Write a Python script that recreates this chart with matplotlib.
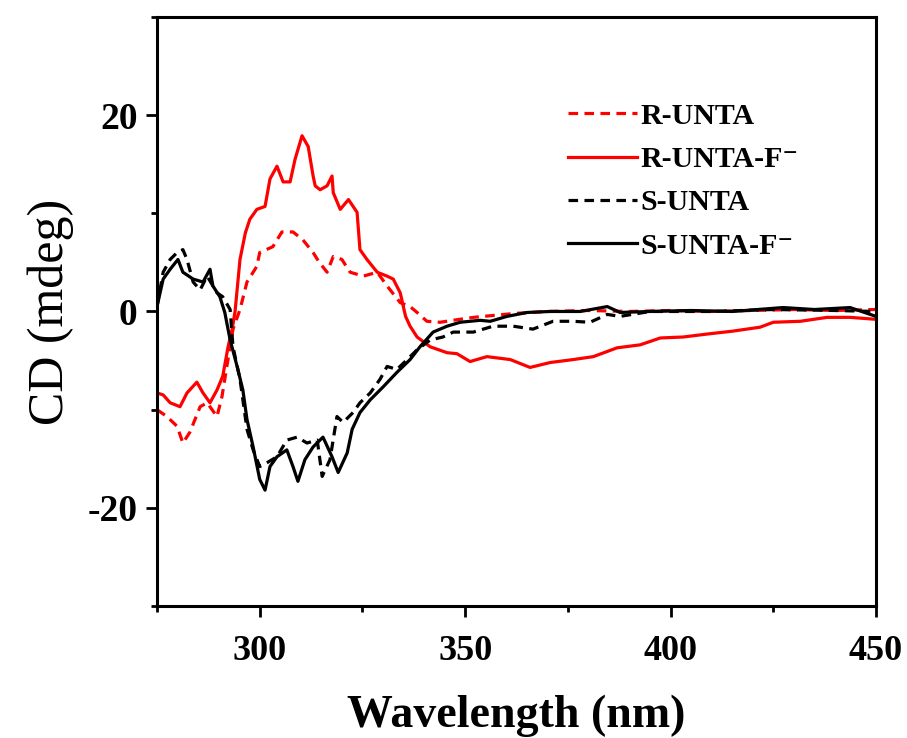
import matplotlib

matplotlib.use("Agg")
import matplotlib.pyplot as plt
from matplotlib.ticker import MultipleLocator

plt.rcParams["font.family"] = ["Liberation Serif", "DejaVu Serif"]
plt.rcParams["axes.unicode_minus"] = False

# R-UNTA (red dashed)
r_wl = [275, 277.4, 279.9, 281.3, 283, 285.5, 287.2, 289.6, 290.8, 292, 293.5, 295.2, 296.9,
        299.3, 300, 303.2, 305.4, 308.1, 310.5, 313, 314.5, 316.4, 317.9, 320, 322, 325.2,
        328.6, 331, 334.2, 336.6, 338.3, 340.7, 343.9, 347, 352, 357, 362, 370, 380, 390,
        400, 410, 420, 430, 440, 450]
r_cd = [-10, -10.7, -11.7, -13.4, -12.3, -9.7, -9.3, -10.7, -8.7, -5.6, -1.8, 0.2, 3.0,
        4.6, 6.0, 6.6, 8.1, 8.1, 7.3, 6.0, 5.0, 4.0, 5.6, 5.3, 4.0, 3.6,
        4.0, 2.6, 0.9, 0.5, -0.1, -1.0, -1.1, -0.9, -0.6, -0.4, -0.2, 0.0, 0.1, 0.0,
        0.1, 0.0, 0.1, 0.2, 0.1, 0.2]

# R-UNTA-F- (red solid)
rf_wl = [275, 276.5, 278.2, 280.6, 282.3, 284.7, 286.2, 287.9, 289.6, 291, 292.3, 293.3, 294,
         295.2, 296.5, 297.6, 299.3, 301.3, 302.5, 304.2, 305.7, 307.4, 308.6, 310.3, 311.8,
         313, 313.5, 314.7, 316.4, 317.6, 317.9, 319.6, 321.6, 323.7, 324.4, 326.1, 328.6,
         331, 332.5, 334.2, 335.5, 336.6, 338.3, 341.5, 345.6, 348, 351.2, 355.3, 361, 365.8,
         370.7, 376.3, 381.2, 387, 392.6, 397.5, 403.1, 408.9, 415.2, 421.8, 425, 431.6,
         438.1, 443.7, 450]
rf_cd = [-8.3, -8.5, -9.3, -9.7, -8.3, -7.2, -8.3, -9.3, -8.0, -6.6, -3.6, -1.8, 0.0,
         5.3, 8.0, 9.4, 10.4, 10.7, 13.5, 14.8, 13.2, 13.2, 15.5, 17.9, 16.8,
         13.8, 12.8, 12.4, 12.8, 13.8, 12.1, 10.4, 11.4, 10.1, 6.3, 5.3, 4.0,
         3.6, 3.3, 1.9, -0.5, -1.5, -2.6, -3.6, -4.2, -4.3, -5.1, -4.6, -4.9, -5.7,
         -5.2, -4.9, -4.6, -3.7, -3.4, -2.7, -2.6, -2.3, -2.0, -1.6, -1.1, -1.0,
         -0.6, -0.6, -0.8]

# S-UNTA (black dashed)
s_wl = [275, 276.5, 278.2, 279.9, 281.3, 282.3, 283.8, 285.5, 287.2, 289.6, 291, 292.8, 293.5,
        295.2, 296.9, 298.4, 300, 301.8, 304.2, 306.6, 309.1, 311.5, 314, 315.2, 317.1, 318.8,
        320.3, 322.7, 324.4, 326.9, 329.3, 331, 333.4, 335.9, 338.3, 341.5, 344.6, 347.1,
        352, 356.8, 361.7, 366.5, 371.4, 376.3, 380.4, 384.6, 387.7, 395, 410, 425, 440, 450]
s_cd = [0.5, 4.0, 5.3, 6.0, 6.3, 5.3, 3.0, 2.2, 3.6, 1.9, 1.5, 0.2, -3.6,
        -6.9, -12, -14.1, -15.8, -15.4, -14.8, -13.1, -12.8, -13.4, -13.1, -16.8, -15.1, -10.7,
        -11.3, -10.3, -9.3, -8.3, -6.9, -5.6, -5.9, -4.9, -3.9, -2.9, -2.6, -2.1,
        -2.1, -1.5, -1.5, -1.8, -1.0, -1.0, -1.1, -0.3, -0.5, 0.0, 0.0, 0.2, 0.1, 0.0]

# S-UNTA-F- (black solid)
sf_wl = [275, 276.5, 278.2, 280.1, 281.3, 283.8, 286.2, 287.9, 288.6, 290.3, 291.5, 292.8,
         294.5, 295.9, 296.9, 298.4, 300, 301.3, 302.5, 304.2, 306.6, 308.1, 309.3, 311, 313,
         315.4, 317.6, 319.1, 321.3, 322.5, 324.4, 326.9, 330, 333.4, 336.6, 339, 342.2,
         345.6, 348.8, 353.6, 356.1, 360.2, 365.1, 370.7, 378, 384.6, 387.7, 395, 405, 415,
         427.4, 435, 443.7, 450]
sf_cd = [0.5, 3.3, 4.3, 5.3, 4.0, 3.3, 3.0, 4.3, 2.6, 1.5, -0.1, -2.9,
         -5.6, -8.0, -11, -13.8, -17.1, -18.2, -15.8, -14.8, -14.1, -15.8, -17.3, -15.1, -13.8,
         -12.8, -14.8, -16.4, -14.4, -12, -10.3, -9.0, -7.7, -6.2, -4.9, -3.6, -2.1,
         -1.5, -1.1, -0.9, -1.0, -0.5, -0.1, 0.0, 0.0, 0.5, -0.1, 0.0, 0.1, 0.0,
         0.4, 0.2, 0.4, -0.5]

fig = plt.figure(figsize=(9.07, 7.38), dpi=100)
ax = fig.add_axes([0.1731, 0.1789, 0.7927, 0.7981])

lw = 2.3
ax.plot(r_wl, r_cd, color="red", lw=lw, dashes=(3.0, 2.0), label="R-UNTA")
ax.plot(rf_wl, rf_cd, color="red", lw=lw, label="R-UNTA-F\u207b")
ax.plot(s_wl, s_cd, color="black", lw=lw, dashes=(3.0, 2.0), label="S-UNTA")
ax.plot(sf_wl, sf_cd, color="black", lw=lw, label="S-UNTA-F\u207b")

ax.set_xlim(275, 450)
ax.set_ylim(-30, 30)
ax.xaxis.set_minor_locator(MultipleLocator(25))
ax.yaxis.set_minor_locator(MultipleLocator(10))
ax.set_xticks([300, 350, 400, 450])
ax.set_yticks([-20, 0, 20])

for side in ax.spines.values():
    side.set_linewidth(2.2)
ax.tick_params(which="major", direction="out", length=8, width=2)
ax.tick_params(which="minor", direction="out", length=4, width=2)
ax.tick_params(axis="x", labelsize=26, pad=13)
ax.tick_params(axis="y", labelsize=27, pad=6)
for lab in ax.get_xticklabels() + ax.get_yticklabels():
    lab.set_fontweight("bold")

ax.set_xlabel("Wavelength (nm)", fontsize=33, fontweight="bold", labelpad=19)
ax.set_ylabel("CD (mdeg)", fontsize=36, labelpad=10)

leg = ax.legend(loc="upper left", bbox_to_anchor=(0.555, 0.875), frameon=False,
                prop={"family": ["Liberation Serif", "DejaVu Serif"], "weight": "bold", "size": 21.5},
                handlelength=2.3, handletextpad=0.12, labelspacing=0.55, borderaxespad=0)

fig.savefig("out.png", dpi=100)
